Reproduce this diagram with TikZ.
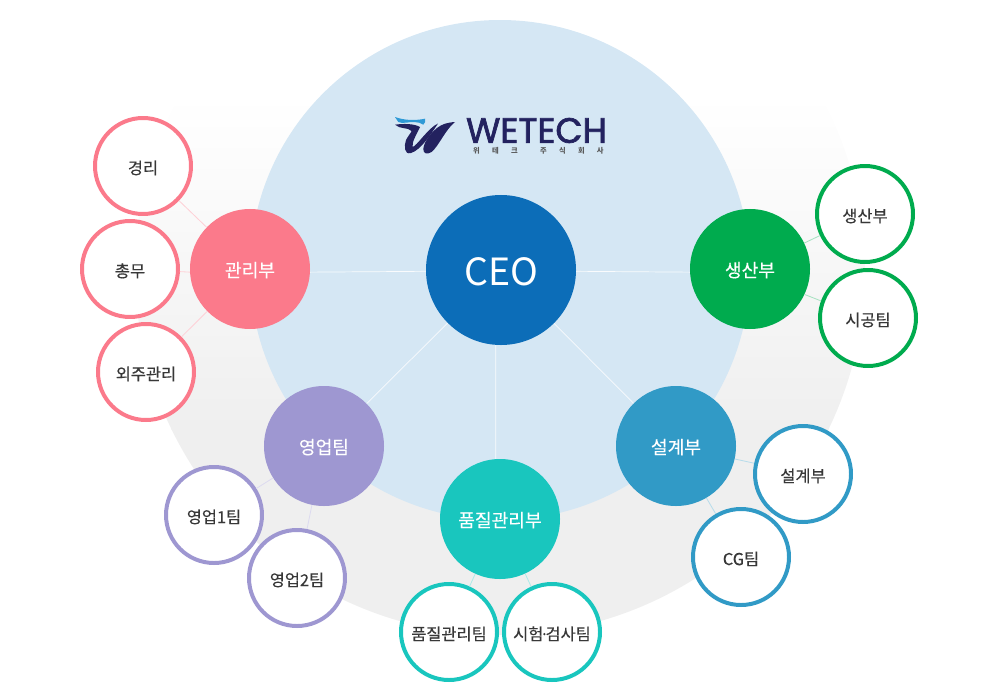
\documentclass[tikz,border=0pt]{standalone}
\usepackage{fontspec}
\setmainfont{Noto Sans CJK KR}
\newfontfamily\logofont[FakeBold=2]{Poppins}
\newfontfamily\labelfont[FakeBold=0.3]{Noto Sans CJK KR}
\usepackage{xcolor}
\usetikzlibrary{positioning}
\definecolor{sky}{HTML}{D5E7F4}
\definecolor{ringgray}{HTML}{EFEFEF}
\definecolor{ceoblue}{HTML}{0C6DB8}
\definecolor{pinkc}{HTML}{FB7A8B}
\definecolor{greenc}{HTML}{00AB4E}
\definecolor{purplec}{HTML}{9E97D1}
\definecolor{tealc}{HTML}{19C6BE}
\definecolor{bluec}{HTML}{319AC6}
\definecolor{navy}{HTML}{23225F}
\definecolor{wave}{HTML}{2F9AD6}

\begin{document}
\begin{tikzpicture}[x=0.03cm, y=-0.03cm,
  dept/.style={circle, fill=#1, text=white, minimum size=3.6cm, inner sep=0pt, text height=15.6pt, text depth=2pt, font=\labelfont\fontsize{15.5}{18}\selectfont},
  team/.style={circle, draw=#1, line width=3.4pt, fill=white, text=black!78, minimum size=2.88cm, inner sep=0pt, text height=16pt, text depth=2.2pt, font=\labelfont\fontsize{14}{16}\selectfont},
  hub/.style={line width=0.6pt, color=white!85!sky},
  link/.style={line width=0.7pt, color=#1!35!white}]
\useasboundingbox (0,0) rectangle (1000,700);
% ring and big circle
\begin{scope}
\clip (500,270) circle[radius=365];
\shade[top color=white, bottom color=ringgray] (100,95) rectangle (900,430);
\fill[ringgray] (100,429) rectangle (900,640);
\end{scope}
\fill[sky] (500,270) circle[radius=250];
% logo
\fill[wave] (395,117) .. controls (403,120) and (414,121) .. (425,118.7) .. controls (426,121) and (425,123) .. (423.3,124.7) .. controls (419,121) and (410,122) .. (406,122.7) .. controls (403,123) and (400,123) .. (398.3,122) .. controls (397,120) and (396,119) .. (395,117) -- cycle;
\fill[navy] (395,124.7) .. controls (403,123.5) and (414,123.5) .. (420,127) .. controls (417,134) and (412,141) .. (412.5,147) .. controls (417,146) and (428,128) .. (438,123.5) .. controls (431,134) and (421,150) .. (411,153) .. controls (404,155) and (404,146) .. (406,140) .. controls (408,136) and (411,133) .. (411.5,131) .. controls (408,127) and (400,129.5) .. (395,124.7) -- cycle;
\fill[navy] (455,122) .. controls (445,130) and (439,146) .. (431.5,152) .. controls (427,155) and (423,153.5) .. (423.3,148.7) .. controls (424,141) and (434,127) .. (445,123.7) .. controls (448,123) and (452,122) .. (455,122) -- cycle;
\node[text=navy, inner sep=0pt, font=\logofont\fontsize{30}{30}\selectfont] (wetech) at (536.5,130.5) {WETECH};
\node[text=black!65, inner sep=0pt, font=\fontsize{6.2}{7}\bfseries\selectfont] (company) at (538.4,151) {위\hspace{10.5pt}테\hspace{10.5pt}크\hspace{19pt}주\hspace{10.5pt}식\hspace{10.5pt}회\hspace{10.5pt}사};
% nodes
\node[circle, fill=ceoblue, text=white, minimum size=4.5cm, inner sep=0pt, text height=30pt, text depth=3.2pt, font=\fontsize{32}{36}\selectfont] (ceo) at (501,270) {CEO};
\node[dept=pinkc] (admin) at (250,269) {관리부};
\node[dept=greenc] (prod) at (750,269) {생산부};
\node[dept=purplec] (sales) at (324,446) {영업팀};
\node[dept=tealc] (quality) at (500,519) {품질관리부};
\node[dept=bluec] (design) at (676,446) {설계부};
\node[team=pinkc] (acct) at (143,166) {경리};
\node[team=pinkc] (general) at (130,269) {총무};
\node[team=pinkc] (outsrc) at (146,372) {외주관리};
\node[team=purplec] (salesa) at (214,515) {영업1팀};
\node[team=purplec] (salesb) at (297,578) {영업2팀};
\node[team=tealc] (qteam) at (449,632) {품질관리팀};
\node[team=tealc] (test) at (552,632) {시험\kern-3pt·\kern-3pt검사팀};
\node[team=bluec] (cg) at (741,557) {CG팀};
\node[team=bluec] (desteam) at (803,474) {설계부};
\node[team=greenc] (prodteam) at (865,214) {생산부};
\node[team=greenc] (constr) at (868,318) {시공팀};
% connectors
\draw[hub] (ceo.181.5)--(admin.-3); \draw[hub] (ceo.-1.5)--(prod.183);
\draw[hub] (ceo)--(sales); \draw[hub] (ceo)--(design); \draw[hub] (ceo.-94)--(quality.94);
\draw[link=pinkc] (admin)--(acct); \draw[link=pinkc] (admin.183)--(general.-3); \draw[link=pinkc] (admin)--(outsrc);
\draw[link=purplec] (sales)--(salesa); \draw[link=purplec] (sales)--(salesb);
\draw[link=tealc] (quality)--(qteam); \draw[link=tealc] (quality)--(test);
\draw[link=bluec] (design)--(cg); \draw[link=bluec] (design)--(desteam);
\draw[link=greenc] (prod)--(prodteam); \draw[link=greenc] (prod.-25)--(constr.160);
\end{tikzpicture}
\end{document}
